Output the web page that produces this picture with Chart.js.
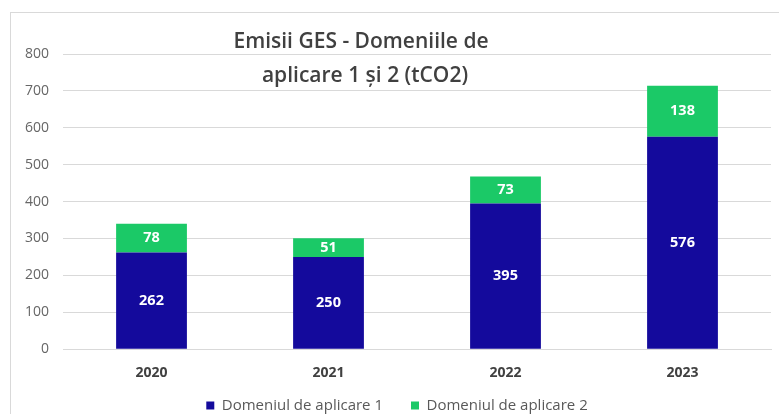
<!DOCTYPE html>
<html>
<head>
<meta charset="utf-8">
<script src="https://cdn.jsdelivr.net/npm/chart.js@4/dist/chart.umd.min.js"></script>
<style>
html,body{margin:0;padding:0;background:#fff;overflow:hidden;}
#frame{position:absolute;left:10px;top:12px;width:800px;height:430px;border:1px solid #d9d9d9;}
#wrap{position:absolute;left:0;top:0;width:779px;height:414px;}
</style>
</head>
<body>
<div id="frame"></div>
<div id="wrap"><canvas id="c"></canvas></div>
<script>
//categorii
var years=['2020','2021','2022','2023'];
//serii
var scope1=[262,250,395,576];
var scope2=[78,51,73,138];
var seriesNames=['Domeniul de aplicare 1','Domeniul de aplicare 2'];
//axa y
var yTicks=[0,100,200,300,400,500,600,700,800];
var titleLines=['Emisii GES - Domeniile de','aplicare 1 și 2 (tCO2)'];

var FONT='"Open Sans", "Noto Sans", sans-serif';

//etichete in bare
var valueLabels={
	id:'valueLabels',
	afterDatasetsDraw:function(chart){
		var ctx=chart.ctx;
		ctx.save();
		ctx.font='bold 14.5px '+FONT;
		ctx.fillStyle='#ffffff';
		ctx.textAlign='center';
		ctx.textBaseline='middle';
		chart.data.datasets.forEach(function(ds,di){
			chart.getDatasetMeta(di).data.forEach(function(bar,i){
				var y=(bar.y+bar.base)/2;
				ctx.fillText(ds.data[i],bar.x,y);
			});
		});
		ctx.restore();
	}
};

//titlu peste grafic
var overlayTitle={
	id:'overlayTitle',
	afterDraw:function(chart){
		var ctx=chart.ctx;
		ctx.save();
		ctx.font='600 21px '+FONT;
		ctx.fillStyle='#404040';
		ctx.textAlign='center';
		ctx.textBaseline='middle';
		ctx.fillText(titleLines[0],361,42);
		ctx.fillText(titleLines[1],365,76);
		ctx.restore();
	}
};

//legenda mai sus, spatiu mare intre elemente
var legendShift={
	id:'legendShift',
	afterLayout:function(chart){
		var lg=chart.legend;
		if(!lg) return;
		lg.top-=18;
		lg.bottom-=18;
		lg.left+=6;
		lg.right+=6;
	}
};

var ctx=document.getElementById('c').getContext('2d');
var chart=new Chart(ctx,{
	type:'bar',
	data:{
		labels:years,
		datasets:[
			{label:seriesNames[0],data:scope1,backgroundColor:'#140a9c',borderWidth:0,categoryPercentage:0.4,barPercentage:1},
			{label:seriesNames[1],data:scope2,backgroundColor:'#1bc967',borderWidth:0,categoryPercentage:0.4,barPercentage:1}
		]
	},
	options:{
		responsive:true,
		maintainAspectRatio:false,
		animation:false,
		layout:{padding:{top:54,right:8,left:11,bottom:-27}},
		scales:{
			x:{
				stacked:true,
				grid:{display:false},
				border:{color:'#d9d9d9'},
				ticks:{color:'#404040',font:{family:FONT,size:14,weight:'bold'},padding:7}
			},
			y:{
				stacked:true,
				min:yTicks[0],
				max:yTicks[yTicks.length-1],
				afterBuildTicks:function(axis){
					axis.ticks=yTicks.map(function(v){return {value:v};});
				},
				grid:{color:'#d9d9d9',drawTicks:false},
				border:{display:false},
				ticks:{color:'#666666',font:{family:FONT,size:14},padding:14}
			}
		},
		plugins:{
			legend:{
				position:'bottom',
				labels:{
					color:'#595959',
					font:{family:FONT,size:15},
					boxWidth:8,
					boxHeight:8,
					padding:28
				}
			},
			tooltip:{enabled:false}
		}
	},
	plugins:[valueLabels,overlayTitle,legendShift]
});
</script>
</body>
</html>
